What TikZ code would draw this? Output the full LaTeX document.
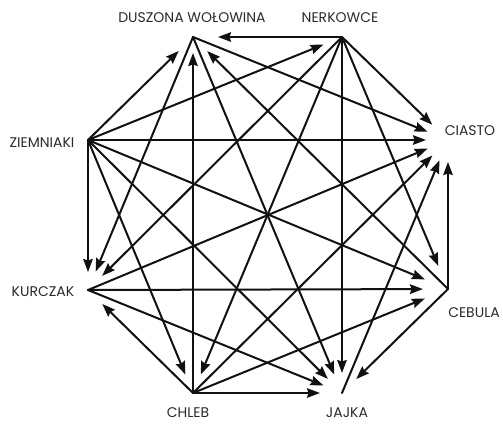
\documentclass[tikz,border=0pt]{standalone}
\usepackage{fontspec}
\setmainfont{Poppins}
\usetikzlibrary{arrows.meta}
\definecolor{labelgray}{HTML}{2A2A2A}
\definecolor{edgeblack}{HTML}{111111}
\tikzset{
  lbl/.style={font=\fontsize{14}{14}\selectfont, text=labelgray, inner sep=0pt},
  edge/.style={draw=edgeblack, line width=2pt, line cap=round,
    -{Stealth[length=13pt,width=9.5pt,inset=1.5pt]}, shorten >=20pt},
  toC/.style={shorten >=22pt},
  toB/.style={shorten >=25pt}
}
\begin{document}
\begin{tikzpicture}[x=1pt,y=-1pt]
\useasboundingbox (0,0) rectangle (503,424);
% octagon vertices
\coordinate (D) at (193,37);
\coordinate (N) at (342,37);
\coordinate (C) at (448,140);
\coordinate (B) at (448,289);
\coordinate (J) at (342,393);
\coordinate (H) at (193,393);
\coordinate (K) at (88,290);
\coordinate (Z) at (88,140);
% labels
\node[lbl] (lD) at (192,18) {DUSZONA WOŁOWINA};
\node[lbl] (lN) at (340,18) {NERKOWCE};
\node[lbl] (lC) at (470,131) {CIASTO};
\node[lbl] (lB) at (474,313) {CEBULA};
\node[lbl] (lJ) at (347,413) {JAJKA};
\node[lbl] (lH) at (188,413) {CHLEB};
\node[lbl] (lK) at (43,292) {KURCZAK};
\node[lbl] (lZ) at (42,143) {ZIEMNIAKI};
% edges out of Ziemniaki
\draw[edge] (Z) -- (D);
\draw[edge] (Z) -- (N);
\draw[edge,toC] (Z) -- (C);
\draw[edge,toB] (Z) -- (B);
\draw[edge] (Z) -- (J);
\draw[edge] (Z) -- (H);
\draw[edge,shorten >=18pt] (Z) -- (K);
% edges out of Nerkowce
\draw[edge,shorten >=25pt] (N) -- (D);
\draw[edge,toC] (N) -- (C);
\draw[edge,toB] (N) -- (B);
\draw[edge] (N) -- (J);
\draw[edge] (N) -- (H);
\draw[edge] (N) -- (K);
% edges out of Chleb
\draw[edge,shorten >=16pt] (H) -- (D);
\draw[edge] (H) -- (K);
\draw[edge,shorten >=22pt] (H) -- (J);
\draw[edge,toC] (H) -- (C);
\draw[edge,toB] (H) -- (B);
% edges out of Duszona Wolowina
\draw[edge,toC] (D) -- (C);
\draw[edge] (D) -- (K);
\draw[edge] (D) -- (J);
% edges out of Cebula
\draw[edge] (B) -- (D);
\draw[edge,toC] (B) -- (C);
\draw[edge] (B) -- (J);
% edges out of Kurczak
\draw[edge,toC] (K) -- (C);
\draw[edge,toB] (K) -- (B);
\draw[edge] (K) -- (J);
% edge out of Jajka
\draw[edge,toC] (J) -- (C);
\end{tikzpicture}
\end{document}
